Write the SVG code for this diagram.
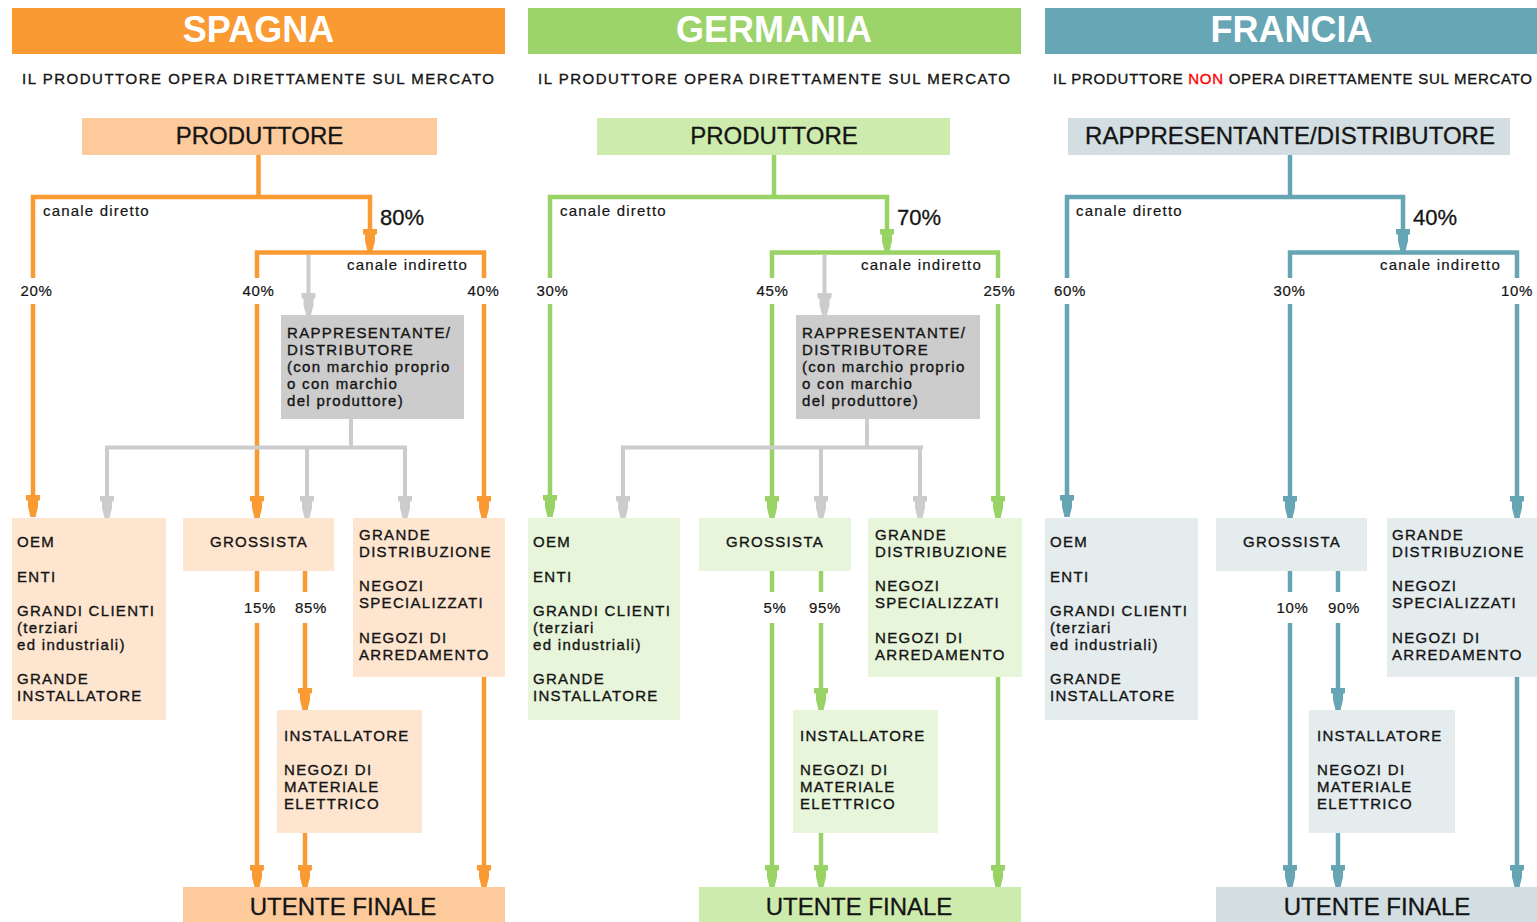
<svg xmlns="http://www.w3.org/2000/svg" width="1537" height="922" viewBox="0 0 1537 922">
<style>
text{font-family:"Liberation Sans",Arial,sans-serif;fill:#141414}
.title{font-size:36px;font-weight:bold;fill:#fff;text-anchor:middle}
.sub{font-size:15px;stroke:#141414;stroke-width:0.35px}
.big{font-size:24px;text-anchor:middle;stroke:#141414;stroke-width:0.3px}
.bx{font-size:15px;letter-spacing:1.3px;stroke:#141414;stroke-width:0.35px}
.mid{text-anchor:middle}
.pct{font-size:15px;text-anchor:middle;letter-spacing:0.6px;stroke:#141414;stroke-width:0.2px}
.pbig{font-size:22px;stroke:#141414;stroke-width:0.3px}
.can{font-size:15px;letter-spacing:1.2px;stroke:#141414;stroke-width:0.2px}
.ln{fill:none;stroke-width:4.5;stroke-linejoin:miter;stroke-linecap:butt}
.gr{fill:none;stroke:#CCCCCC;stroke-width:4}
.es .ln{stroke:#FA9A32}
.de .ln{stroke:#99D366}
.fr .ln{stroke:#66A5B4}
.es .ar{marker-end:url(#a-es)}
.de .ar{marker-end:url(#a-de)}
.fr .ar{marker-end:url(#a-fr)}
.gr.ar{marker-end:url(#a-gr)}
.es .hd{fill:#FA9A32}.es .tp{fill:#FDCA9B}.es .lt{fill:#FEE5D0}
.de .hd{fill:#9CD46B}.de .tp{fill:#CDEBAD}.de .lt{fill:#E7F5DA}
.fr .hd{fill:#67A6B5}.fr .tp{fill:#D2DEE2}.fr .lt{fill:#E5ECEE}
.rep{fill:#CCCCCC}
</style>
<defs>
<marker id="a-es" markerUnits="userSpaceOnUse" viewBox="-23 -8 24 16" markerWidth="24" markerHeight="16" refX="0" refY="0" orient="auto"><path d="M-22,-7 L-17,-7 L-16,-5 L-10,-5 L0,-2.5 L0,2.5 L-10,5 L-16,5 L-17,7 L-22,7 Z" fill="#FA9A32"/></marker>
<marker id="a-de" markerUnits="userSpaceOnUse" viewBox="-23 -8 24 16" markerWidth="24" markerHeight="16" refX="0" refY="0" orient="auto"><path d="M-22,-7 L-17,-7 L-16,-5 L-10,-5 L0,-2.5 L0,2.5 L-10,5 L-16,5 L-17,7 L-22,7 Z" fill="#99D366"/></marker>
<marker id="a-fr" markerUnits="userSpaceOnUse" viewBox="-23 -8 24 16" markerWidth="24" markerHeight="16" refX="0" refY="0" orient="auto"><path d="M-22,-7 L-17,-7 L-16,-5 L-10,-5 L0,-2.5 L0,2.5 L-10,5 L-16,5 L-17,7 L-22,7 Z" fill="#66A5B4"/></marker>
<marker id="a-gr" markerUnits="userSpaceOnUse" viewBox="-23 -8 24 16" markerWidth="24" markerHeight="16" refX="0" refY="0" orient="auto"><path d="M-22,-7 L-17,-7 L-16,-5 L-10,-5 L0,-2.5 L0,2.5 L-10,5 L-16,5 L-17,7 L-22,7 Z" fill="#CCCCCC"/></marker>
</defs>
<rect width="1537" height="922" fill="#fff"/>

<!-- SPAGNA -->
<g class="es">
<g id="es-header"><rect class="hd" x="12" y="8" width="493" height="46"/><text class="title" x="258.5" y="42">SPAGNA</text>
<text class="sub" x="22" y="84" textLength="472" lengthAdjust="spacing">IL PRODUTTORE OPERA DIRETTAMENTE SUL MERCATO</text></g>
<g id="es-produttore"><rect class="tp" x="82" y="118" width="355" height="37"/><text class="big" x="259.5" y="144">PRODUTTORE</text></g>
<g id="es-rappresentante"><rect class="rep" x="281" y="315" width="183" height="104"/>
<text class="bx" x="287" y="338">RAPPRESENTANTE/</text><text class="bx" x="287" y="355">DISTRIBUTORE</text><text class="bx" x="287" y="372">(con marchio proprio</text><text class="bx" x="287" y="389">o con marchio</text><text class="bx" x="287" y="406">del produttore)</text></g>
<g id="es-oem"><rect class="lt" x="12" y="518" width="154" height="202"/>
<text class="bx" x="17" y="547">OEM</text><text class="bx" x="17" y="582">ENTI</text><text class="bx" x="17" y="616">GRANDI CLIENTI</text><text class="bx" x="17" y="633">(terziari</text><text class="bx" x="17" y="650">ed industriali)</text><text class="bx" x="17" y="684">GRANDE</text><text class="bx" x="17" y="701">INSTALLATORE</text></g>
<g id="es-grossista"><rect class="lt" x="183" y="518" width="151" height="53"/><text class="bx mid" x="259" y="547">GROSSISTA</text></g>
<g id="es-grande"><rect class="lt" x="353" y="518" width="152" height="159"/>
<text class="bx" x="359" y="540">GRANDE</text><text class="bx" x="359" y="557">DISTRIBUZIONE</text><text class="bx" x="359" y="591">NEGOZI</text><text class="bx" x="359" y="608">SPECIALIZZATI</text><text class="bx" x="359" y="643">NEGOZI DI</text><text class="bx" x="359" y="660">ARREDAMENTO</text></g>
<g id="es-installatore"><rect class="lt" x="277" y="710" width="145" height="123"/>
<text class="bx" x="284" y="741">INSTALLATORE</text><text class="bx" x="284" y="775">NEGOZI DI</text><text class="bx" x="284" y="792">MATERIALE</text><text class="bx" x="284" y="809">ELETTRICO</text></g>
<g id="es-utente"><rect class="tp" x="183" y="887" width="322" height="40"/><text class="big" x="343" y="915">UTENTE FINALE</text></g>
</g>

<!-- GERMANIA -->
<g class="de" transform="translate(516,0)">
<g id="de-header"><rect class="hd" x="12" y="8" width="493" height="46"/><text class="title" x="258" y="42">GERMANIA</text>
<text class="sub" x="22" y="84" textLength="472" lengthAdjust="spacing">IL PRODUTTORE OPERA DIRETTAMENTE SUL MERCATO</text></g>
<g id="de-produttore"><rect class="tp" x="81" y="118" width="353" height="37"/><text class="big" x="258" y="144">PRODUTTORE</text></g>
<g id="de-rappresentante"><rect class="rep" x="280" y="315" width="184" height="104"/>
<text class="bx" x="286" y="338">RAPPRESENTANTE/</text><text class="bx" x="286" y="355">DISTRIBUTORE</text><text class="bx" x="286" y="372">(con marchio proprio</text><text class="bx" x="286" y="389">o con marchio</text><text class="bx" x="286" y="406">del produttore)</text></g>
<g id="de-oem"><rect class="lt" x="12" y="518" width="152" height="202"/>
<text class="bx" x="17" y="547">OEM</text><text class="bx" x="17" y="582">ENTI</text><text class="bx" x="17" y="616">GRANDI CLIENTI</text><text class="bx" x="17" y="633">(terziari</text><text class="bx" x="17" y="650">ed industriali)</text><text class="bx" x="17" y="684">GRANDE</text><text class="bx" x="17" y="701">INSTALLATORE</text></g>
<g id="de-grossista"><rect class="lt" x="183" y="518" width="152" height="53"/><text class="bx mid" x="259" y="547">GROSSISTA</text></g>
<g id="de-grande"><rect class="lt" x="352" y="518" width="154" height="159"/>
<text class="bx" x="359" y="540">GRANDE</text><text class="bx" x="359" y="557">DISTRIBUZIONE</text><text class="bx" x="359" y="591">NEGOZI</text><text class="bx" x="359" y="608">SPECIALIZZATI</text><text class="bx" x="359" y="643">NEGOZI DI</text><text class="bx" x="359" y="660">ARREDAMENTO</text></g>
<g id="de-installatore"><rect class="lt" x="277" y="710" width="145" height="123"/>
<text class="bx" x="284" y="741">INSTALLATORE</text><text class="bx" x="284" y="775">NEGOZI DI</text><text class="bx" x="284" y="792">MATERIALE</text><text class="bx" x="284" y="809">ELETTRICO</text></g>
<g id="de-utente"><rect class="tp" x="183" y="887" width="322" height="40"/><text class="big" x="343" y="915">UTENTE FINALE</text></g>
</g>

<!-- FRANCIA -->
<g class="fr" transform="translate(1033,0)">
<g id="fr-header"><rect class="hd" x="12" y="8" width="493" height="46"/><text class="title" x="258.5" y="42">FRANCIA</text>
<text class="sub" x="20" y="84" textLength="479" lengthAdjust="spacing">IL PRODUTTORE <tspan fill="#FF0000" stroke="#FF0000">NON</tspan> OPERA DIRETTAMENTE SUL MERCATO</text></g>
<g id="fr-distributore"><rect class="tp" x="35" y="118" width="442" height="37"/><text class="big" x="257" y="144">RAPPRESENTANTE/DISTRIBUTORE</text></g>
<g id="fr-oem"><rect class="lt" x="12" y="518" width="153" height="202"/>
<text class="bx" x="17" y="547">OEM</text><text class="bx" x="17" y="582">ENTI</text><text class="bx" x="17" y="616">GRANDI CLIENTI</text><text class="bx" x="17" y="633">(terziari</text><text class="bx" x="17" y="650">ed industriali)</text><text class="bx" x="17" y="684">GRANDE</text><text class="bx" x="17" y="701">INSTALLATORE</text></g>
<g id="fr-grossista"><rect class="lt" x="183" y="518" width="151" height="53"/><text class="bx mid" x="259" y="547">GROSSISTA</text></g>
<g id="fr-grande"><rect class="lt" x="354" y="518" width="152" height="159"/>
<text class="bx" x="359" y="540">GRANDE</text><text class="bx" x="359" y="557">DISTRIBUZIONE</text><text class="bx" x="359" y="591">NEGOZI</text><text class="bx" x="359" y="608">SPECIALIZZATI</text><text class="bx" x="359" y="643">NEGOZI DI</text><text class="bx" x="359" y="660">ARREDAMENTO</text></g>
<g id="fr-installatore"><rect class="lt" x="276" y="710" width="146" height="123"/>
<text class="bx" x="284" y="741">INSTALLATORE</text><text class="bx" x="284" y="775">NEGOZI DI</text><text class="bx" x="284" y="792">MATERIALE</text><text class="bx" x="284" y="809">ELETTRICO</text></g>
<g id="fr-utente"><rect class="tp" x="183" y="887" width="322" height="40"/><text class="big" x="344" y="915">UTENTE FINALE</text></g>
</g>

<!-- CONNECTORS -->
<g id="connectors">
<g class="es">
<path class="ln" d="M258.5,155 V197"/>
<path class="ln ar" d="M33,278 V197 H370 V251"/>
<path class="ln ar" d="M33,304 V517"/>
<path class="ln" d="M257,278 V252.5 H484 V278"/>
<path class="ln ar" d="M257,304 V518"/>
<path class="ln ar" d="M484,304 V518"/>
<path class="gr ar" d="M308.5,255 V315"/>
<path class="gr" d="M351,419 V447.5 M105,447.5 H407"/>
<path class="gr ar" d="M107,446 V518"/>
<path class="gr ar" d="M307,446 V518"/>
<path class="gr ar" d="M405,446 V518"/>
<path class="ln" d="M257,571 V592"/>
<path class="ln ar" d="M257,623 V887"/>
<path class="ln" d="M305,571 V592"/>
<path class="ln ar" d="M305,623 V710"/>
<path class="ln ar" d="M305,833 V887"/>
<path class="ln ar" d="M484,677 V887"/>
<text class="can" x="43" y="216">canale diretto</text>
<text class="pbig" x="380" y="225">80%</text>
<text class="can" x="347" y="270">canale indiretto</text>
<text class="pct" x="36.5" y="296">20%</text>
<text class="pct" x="258.5" y="296">40%</text>
<text class="pct" x="483.5" y="296">40%</text>
<text class="pct" x="260" y="613">15%</text>
<text class="pct" x="311" y="613">85%</text>
</g>
<g class="de" transform="translate(516,0)">
<path class="ln" d="M258,155 V197"/>
<path class="ln ar" d="M34,278 V197 H371 V251"/>
<path class="ln ar" d="M34,304 V517"/>
<path class="ln" d="M256,278 V252.5 H482 V278"/>
<path class="ln ar" d="M256,304 V518"/>
<path class="ln ar" d="M482,304 V518"/>
<path class="gr ar" d="M308.5,255 V315"/>
<path class="gr" d="M351,419 V447.5 M105,447.5 H407"/>
<path class="gr ar" d="M107,446 V518"/>
<path class="gr ar" d="M305,446 V518"/>
<path class="gr ar" d="M404,446 V518"/>
<path class="ln" d="M256,571 V592"/>
<path class="ln ar" d="M256,623 V887"/>
<path class="ln" d="M305,571 V592"/>
<path class="ln ar" d="M305,623 V710"/>
<path class="ln ar" d="M305,833 V887"/>
<path class="ln ar" d="M482,677 V887"/>
<text class="can" x="44" y="216">canale diretto</text>
<text class="pbig" x="381" y="225">70%</text>
<text class="can" x="345" y="270">canale indiretto</text>
<text class="pct" x="36.5" y="296">30%</text>
<text class="pct" x="256.5" y="296">45%</text>
<text class="pct" x="483.5" y="296">25%</text>
<text class="pct" x="259" y="613">5%</text>
<text class="pct" x="309" y="613">95%</text>
</g>
<g class="fr" transform="translate(1033,0)">
<path class="ln" d="M257,155 V197"/>
<path class="ln ar" d="M34,278 V197 H370 V251"/>
<path class="ln ar" d="M34,304 V517"/>
<path class="ln" d="M257,278 V252.5 H484 V278"/>
<path class="ln ar" d="M257,304 V518"/>
<path class="ln ar" d="M484,304 V518"/>
<path class="ln" d="M257,571 V592"/>
<path class="ln ar" d="M257,623 V887"/>
<path class="ln" d="M305,571 V592"/>
<path class="ln ar" d="M305,623 V710"/>
<path class="ln ar" d="M305,833 V887"/>
<path class="ln ar" d="M484,677 V887"/>
<text class="can" x="43" y="216">canale diretto</text>
<text class="pbig" x="380" y="225">40%</text>
<text class="can" x="347" y="270">canale indiretto</text>
<text class="pct" x="37" y="296">60%</text>
<text class="pct" x="256.5" y="296">30%</text>
<text class="pct" x="484" y="296">10%</text>
<text class="pct" x="259.5" y="613">10%</text>
<text class="pct" x="311" y="613">90%</text>
</g>
</g>
</svg>
